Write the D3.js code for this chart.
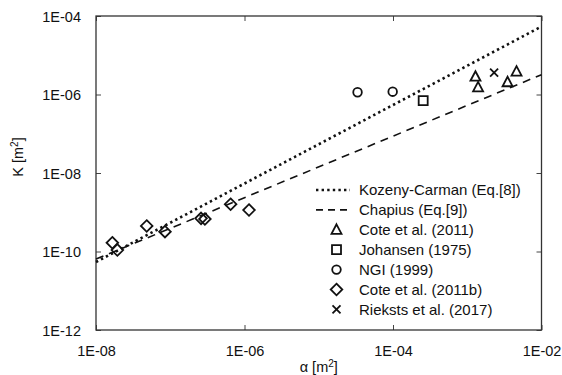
<!DOCTYPE html>
<html>
<head>
<meta charset="utf-8">
<script src="https://cdn.jsdelivr.net/npm/d3@7"></script>
<style>
html,body{margin:0;padding:0;background:#fff;}
svg{display:block;font-family:"Liberation Sans",Arial,sans-serif;}
</style>
</head>
<body>
<svg id="chart" width="562" height="375"></svg>
<script>
// ---- data ----
const xTicks = [1e-8, 1e-6, 1e-4, 1e-2];
const yTicks = [1e-12, 1e-10, 1e-8, 1e-6, 1e-4];
const xTickLabels = ["1E-08", "1E-06", "1E-04", "1E-02"];
const yTickLabels = ["1E-12", "1E-10", "1E-08", "1E-06", "1E-04"];

// model lines (alpha, K)
const kozenyAlpha = [1e-8, 1e-2];
const kozenyK = [5.4e-11, 5.4e-5];
const chapiusAlpha = [1e-8, 1e-2];
const chapiusK = [6.4e-11, 3.2e-6];

// measurements
const coteAlpha = [1.29e-3, 1.40e-3, 3.49e-3, 4.61e-3];
const coteK = [2.84e-6, 1.52e-6, 2.05e-6, 3.81e-6];
const johansenAlpha = [2.55e-4];
const johansenK = [6.95e-7];
const ngiAlpha = [3.33e-5, 9.9e-5];
const ngiK = [1.14e-6, 1.18e-6];
const cote2Alpha = [1.66e-8, 1.94e-8, 4.82e-8, 8.49e-8, 2.6e-7, 2.93e-7, 6.5e-7, 1.15e-6];
const cote2K = [1.67e-10, 1.09e-10, 4.47e-10, 3.2e-10, 7.0e-10, 6.73e-10, 1.6e-9, 1.14e-9];
const riekstsAlpha = [2.30e-3];
const riekstsK = [3.59e-6];

const legendLabels = ["Kozeny-Carman (Eq.[8])", "Chapius (Eq.[9])", "Cote et al. (2011)",
  "Johansen (1975)", "NGI (1999)", "Cote et al. (2011b)", "Rieksts et al. (2017)"];

// ---- layout ----
const svg = d3.select("#chart");
const L = 96, R = 541.5, T = 16, B = 330;
const x = d3.scaleLog().domain([1e-8, 1e-2]).range([L, R]);
const y = d3.scaleLog().domain([1e-12, 1e-4]).range([B, T]);
const ink = "#111";

// axes (ticks inward)
const fmtX = d => xTickLabels[xTicks.indexOf(d)];
const fmtY = d => yTickLabels[yTicks.indexOf(d)];
const gx = svg.append("g").attr("transform", `translate(0,${B})`)
  .call(d3.axisBottom(x).tickValues(xTicks).tickFormat(fmtX).tickSizeInner(-5).tickSizeOuter(0).tickPadding(16));
const gy = svg.append("g").attr("transform", `translate(${L},0)`)
  .call(d3.axisLeft(y).tickValues(yTicks).tickFormat(fmtY).tickSizeInner(-5).tickSizeOuter(0).tickPadding(15));
const gt = svg.append("g").attr("transform", `translate(0,${T})`)
  .call(d3.axisTop(x).tickValues(xTicks).tickFormat("").tickSizeInner(-5).tickSizeOuter(0));
const gr = svg.append("g").attr("transform", `translate(${R},0)`)
  .call(d3.axisRight(y).tickValues(yTicks).tickFormat("").tickSizeInner(-5).tickSizeOuter(0));
[gx, gy, gt, gr].forEach(g => {
  g.select(".domain").remove();
  g.selectAll("line").attr("stroke", "#444").attr("stroke-width", 1);
  g.selectAll("text").attr("fill", ink).style("font-size", "14.5px").style("font-family", '"Liberation Sans",Arial,sans-serif');
});
gy.selectAll("text").attr("dy", "0.35em");
svg.append("rect").attr("x", L).attr("y", T).attr("width", R - L).attr("height", B - T)
  .attr("fill", "none").attr("stroke", "#333").attr("stroke-width", 1.3);

// axis titles
const xt = svg.append("text").attr("x", (L + R) / 2).attr("y", 372).attr("text-anchor", "middle")
  .attr("fill", ink).style("font-size", "14.5px");
xt.append("tspan").text("α [m");
xt.append("tspan").attr("dy", -5).style("font-size", "10px").text("2");
xt.append("tspan").attr("dy", 5).text("]");
const yt = svg.append("text").attr("transform", "translate(23,157) rotate(-90)").attr("text-anchor", "middle")
  .attr("fill", ink).style("font-size", "14.5px");
yt.append("tspan").text("K [m");
yt.append("tspan").attr("dy", -5).style("font-size", "10px").text("2");
yt.append("tspan").attr("dy", 5).text("]");

// model lines
const line = d3.line().x(d => x(d[0])).y(d => y(d[1]));
const plot = svg.append("g");
plot.append("path").datum(kozenyAlpha.map((a, i) => [a, kozenyK[i]]))
  .attr("d", line).attr("fill", "none").attr("stroke", ink).attr("stroke-width", 2.6)
  .attr("stroke-dasharray", "2.4,3.2");
plot.append("path").datum(chapiusAlpha.map((a, i) => [a, chapiusK[i]]))
  .attr("d", line).attr("fill", "none").attr("stroke", ink).attr("stroke-width", 1.6)
  .attr("stroke-dasharray", "8,6");

// marker shapes
function marker(g, type, cx, cy) {
  const s = g.append("path").attr("fill", "none").attr("stroke", ink).attr("stroke-width", 1.8)
    .attr("transform", `translate(${cx},${cy})`);
  if (type === "tri") s.attr("d", "M0,-5.5L5,4L-5,4Z");
  else if (type === "sq") s.attr("d", "M-4.5,-4.5H4.5V4.5H-4.5Z");
  else if (type === "circ") s.attr("d", d3.symbol().type(d3.symbolCircle).size(Math.PI * 4.3 * 4.3)());
  else if (type === "dia") s.attr("d", "M0,-5.8L5.8,0L0,5.8L-5.8,0Z");
  else if (type === "x") s.attr("d", "M-4,-4L4,4M-4,4L4,-4");
  return s;
}
const series = [
  ["tri", coteAlpha, coteK],
  ["sq", johansenAlpha, johansenK],
  ["circ", ngiAlpha, ngiK],
  ["dia", cote2Alpha, cote2K],
  ["x", riekstsAlpha, riekstsK]
];
series.forEach(([type, as, ks]) => {
  as.forEach((a, i) => marker(plot, type, x(a), y(ks[i])));
});

// legend
const lg = svg.append("g");
const ly0 = 190, ldy = 19.9, lsx = 336.5, ltx = 359;
legendLabels.forEach((lab, i) => {
  const yy = ly0 + i * ldy;
  if (i === 0) {
    lg.append("line").attr("x1", 316).attr("x2", 350).attr("y1", yy).attr("y2", yy)
      .attr("stroke", ink).attr("stroke-width", 2.6).attr("stroke-dasharray", "2.4,3.2");
  } else if (i === 1) {
    lg.append("line").attr("x1", 316).attr("x2", 350).attr("y1", yy).attr("y2", yy)
      .attr("stroke", ink).attr("stroke-width", 1.6).attr("stroke-dasharray", "7,5");
  } else {
    marker(lg, series[i - 2][0], lsx, yy);
  }
  lg.append("text").attr("x", ltx).attr("y", yy).attr("dy", "0.35em")
    .attr("fill", ink).style("font-size", "15px").text(lab);
});
</script>
</body>
</html>
